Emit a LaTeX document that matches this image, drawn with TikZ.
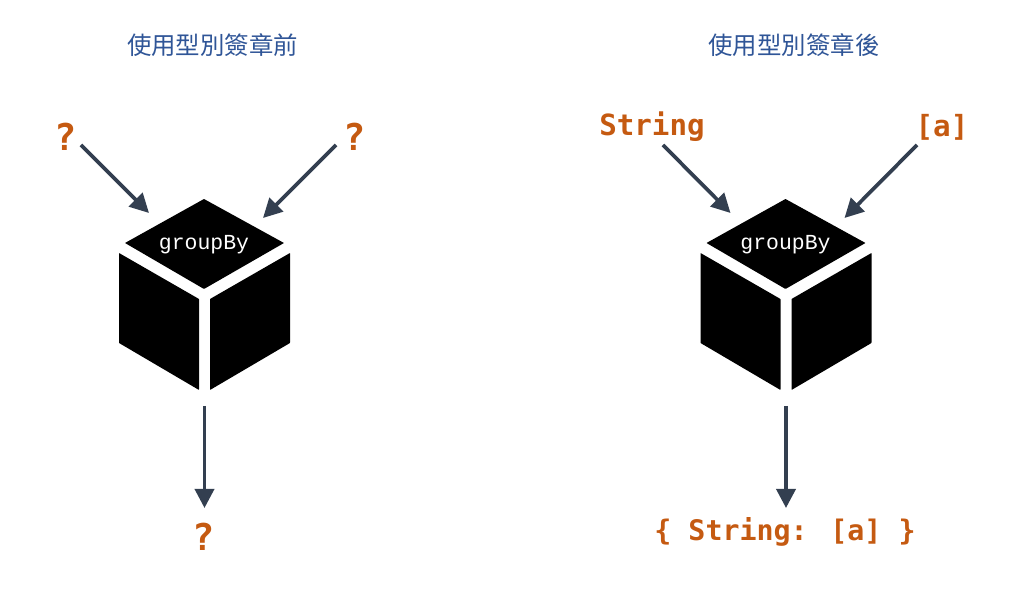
\documentclass[tikz,border=0pt]{standalone}
\usepackage{fontspec}
\newfontfamily\cjkfont{Noto Sans CJK TC}
\newfontfamily\typefont{DejaVu Sans Mono}
\newfontfamily\cubefont{Liberation Mono}
\usetikzlibrary{arrows.meta, positioning}
\definecolor{titleblue}{RGB}{47, 85, 151}
\definecolor{typeorange}{RGB}{197, 90, 17}
\definecolor{flowslate}{RGB}{51, 63, 80}
\tikzset{
  titlelabel/.style={font=\fontsize{6.95pt}{8pt}\cjkfont, text=titleblue, inner sep=0pt},
  typelabel/.style={font=\fontsize{8.3pt}{10pt}\typefont\bfseries, text=typeorange, inner sep=0pt},
  marklabel/.style={font=\fontsize{10.5pt}{12pt}\typefont\bfseries, text=typeorange, inner sep=0pt},
  flowarrow/.style={-{Triangle[length=0.19cm, width=0.19cm]}, line width=0.037cm, flowslate},
  cubeface/.style={fill=black, rounded corners=0.005cm},
}
\begin{document}
\begin{tikzpicture}
  \useasboundingbox (0, 0) rectangle (10.24, 5.92);

  % the two cubes only differ by their offset
  \foreach \n/\ox in {before/0, after/5.815} {
    \begin{scope}[xshift=\ox cm]
      \fill[cubeface] (2.04, 3.93) -- (2.84, 3.49) -- (2.04, 3.03) -- (1.25, 3.49) -- cycle;
      \fill[cubeface] (1.19, 3.39) -- (1.99, 2.93) -- (1.99, 2.02) -- (1.19, 2.49) -- cycle;
      \fill[cubeface] (2.90, 3.39) -- (2.10, 2.93) -- (2.10, 2.02) -- (2.90, 2.49) -- cycle;
      \node[font=\fontsize{6.1pt}{8pt}\cubefont, text=white, inner sep=0pt] (cube\n) at (2.04, 3.47) {groupBy};
      \coordinate (inleft\n) at (1.49, 3.79);
      \coordinate (inright\n) at (2.63, 3.74);
      \coordinate (out\n) at (2.045, 0.84);
      \coordinate (cubebase\n) at (2.045, 1.86);
    \end{scope}
  }

  \node[titlelabel] (titlebefore) at (2.125, 5.47) {使用型別簽章前};
  \node[titlelabel] (titleafter) at (7.94, 5.47) {使用型別簽章後};

  \node[marklabel] (keyq) at (0.66, 4.55) {?};
  \node[marklabel] (listq) at (3.55, 4.55) {?};
  \node[marklabel] (resultq) at (2.04, 0.55) {?};
  \node[typelabel] (keytype) at (6.52, 4.65) {String};
  \node[typelabel] (listtype) at (9.42, 4.65) {[a]};
  \node[typelabel, font=\fontsize{8.05pt}{10pt}\typefont\bfseries] (resulttype) at (7.85, 0.60) {\{ String: [a] \}};

  \draw[flowarrow] ([shift={(0.15, -0.08)}]keyq.center) -- (inleftbefore);
  \draw[flowarrow] ([shift={(-0.19, -0.08)}]listq.center) -- (inrightbefore);
  \draw[flowarrow] (cubebasebefore) -- (outbefore);

  \draw[flowarrow] ([shift={(0.11, -0.18)}]keytype.center) -- (inleftafter);
  \draw[flowarrow] ([shift={(-0.25, -0.18)}]listtype.center) -- (inrightafter);
  \draw[flowarrow] (cubebaseafter) -- (outafter);
\end{tikzpicture}
\end{document}
